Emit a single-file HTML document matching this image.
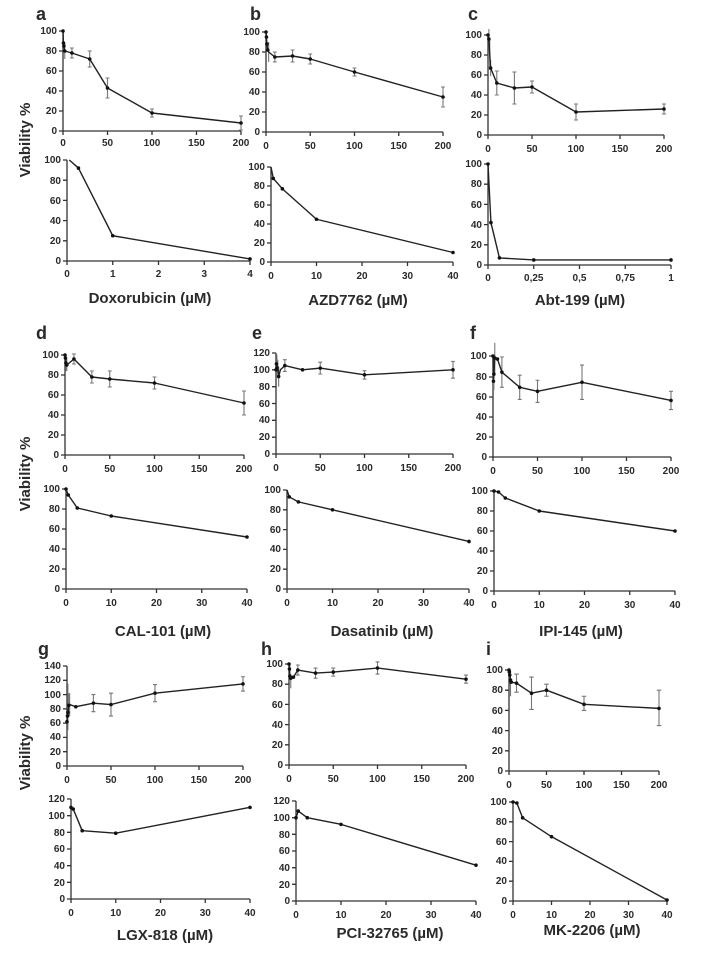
<!DOCTYPE html>
<html><head><meta charset="utf-8"><style>
html,body{margin:0;padding:0;background:#fff}
svg{display:block}
text{font-family:"Liberation Sans",Arial,sans-serif;fill:#2a2a2a}
.t{font-size:10px;font-weight:bold}
.ty{text-anchor:end}
.tx{text-anchor:middle}
.ax{fill:none;stroke:#333;stroke-width:1.3}
.ln{fill:none;stroke:#222;stroke-width:1.4;vector-effect:non-scaling-stroke;stroke-linejoin:round}
.er{fill:none;stroke:#777;stroke-width:1.1;vector-effect:non-scaling-stroke}
.dt{fill:none;stroke:#111;stroke-width:3.6;stroke-linecap:round;vector-effect:non-scaling-stroke}
.ti{font-size:15px;font-weight:bold;text-anchor:middle}
.lb{font-size:18px;font-weight:bold}
.vl{font-size:15px;font-weight:bold;text-anchor:middle}
</style></head><body>
<svg width="717" height="954" viewBox="0 0 717 954" xmlns="http://www.w3.org/2000/svg">
<!-- letters -->
<text class="lb" x="36" y="20">a</text><text class="lb" x="250" y="20">b</text><text class="lb" x="468" y="20">c</text>
<text class="lb" x="36" y="339">d</text><text class="lb" x="252" y="339">e</text><text class="lb" x="470" y="339">f</text>
<text class="lb" x="38" y="655">g</text><text class="lb" x="261" y="655">h</text><text class="lb" x="486" y="655">i</text>
<!-- Viability -->
<text class="vl" transform="translate(30,140) rotate(-90)">Viability %</text>
<text class="vl" transform="translate(30,474) rotate(-90)">Viability %</text>
<text class="vl" transform="translate(30,753) rotate(-90)">Viability %</text>
<!-- titles -->
<text class="ti" x="150" y="303">Doxorubicin (µM)</text>
<text class="ti" x="358" y="305">AZD7762 (µM)</text>
<text class="ti" x="580" y="305">Abt-199 (µM)</text>
<text class="ti" x="163" y="636">CAL-101 (µM)</text>
<text class="ti" x="382" y="636">Dasatinib (µM)</text>
<text class="ti" x="581" y="636">IPI-145 (µM)</text>
<text class="ti" x="165" y="940">LGX-818 (µM)</text>
<text class="ti" x="390" y="938">PCI-32765 (µM)</text>
<text class="ti" x="592" y="935">MK-2206 (µM)</text>

<!-- ===== a top ===== -->
<path class="ax" d="M63,31V131H241M59,131h4M59,111h4M59,91h4M59,71h4M59,51h4M59,31h4M63,131v4M107.5,131v4M152,131v4M196.5,131v4M241,131v4"/>
<g class="t ty"><text x="57" y="134">0</text><text x="57" y="114">20</text><text x="57" y="94">40</text><text x="57" y="74">60</text><text x="57" y="54">80</text><text x="57" y="34">100</text></g>
<g class="t tx"><text x="63" y="146">0</text><text x="107.5" y="146">50</text><text x="152" y="146">100</text><text x="196.5" y="146">150</text><text x="241" y="146">200</text></g>
<g transform="translate(63,131) scale(0.89,-1)">
<path class="er" d="M2,72V88M10,73V83M7.8,83h4.4M7.8,73h4.4M30,64V80M27.8,80h4.4M27.8,64h4.4M50,33V53M47.8,53h4.4M47.8,33h4.4M100,14V22M97.8,22h4.4M97.8,14h4.4M200,1V15M197.8,15h4.4M197.8,1h4.4"/>
<path class="ln" d="M0,100L0.5,88L1,85L2,80L10,78L30,72L50,43L100,18L200,8"/>
<path class="dt" d="M0,100h0M0.5,88h0M1,85h0M2,80h0M10,78h0M30,72h0M50,43h0M100,18h0M200,8h0"/>
</g>
<!-- a bottom -->
<path class="ax" d="M67,160V261H250M63,261h4M63,240.8h4M63,220.6h4M63,200.4h4M63,180.2h4M63,160h4M67,261v4M112.75,261v4M158.5,261v4M204.25,261v4M250,261v4"/>
<g class="t ty"><text x="61" y="264">0</text><text x="61" y="244">20</text><text x="61" y="224">40</text><text x="61" y="204">60</text><text x="61" y="184">80</text><text x="61" y="163">100</text></g>
<g class="t tx"><text x="67" y="277">0</text><text x="112.75" y="277">1</text><text x="158.5" y="277">2</text><text x="204.25" y="277">3</text><text x="250" y="277">4</text></g>
<g transform="translate(67,261) scale(45.75,-1.01)">
<path class="ln" d="M0.05,100L0.25,92L1,25L4,2"/>
<path class="dt" d="M0.25,92h0M1,25h0M4,2h0"/>
</g>

<!-- ===== b top ===== -->
<path class="ax" d="M266,32V132H443M262,132h4M262,112h4M262,92h4M262,72h4M262,52h4M262,32h4M266,132v4M310.25,132v4M354.5,132v4M398.75,132v4M443,132v4"/>
<g class="t ty"><text x="260" y="135">0</text><text x="260" y="115">20</text><text x="260" y="95">40</text><text x="260" y="75">60</text><text x="260" y="55">80</text><text x="260" y="35">100</text></g>
<g class="t tx"><text x="266" y="149">0</text><text x="310.25" y="149">50</text><text x="354.5" y="149">100</text><text x="398.75" y="149">150</text><text x="443" y="149">200</text></g>
<g transform="translate(266,132) scale(0.885,-1)">
<path class="er" d="M3,70V90M10,70V80M7.8,80h4.4M7.8,70h4.4M30,70V82M27.8,82h4.4M27.8,70h4.4M50,68V78M47.8,78h4.4M47.8,68h4.4M100,56V64M97.8,64h4.4M97.8,56h4.4M200,25V45M197.8,45h4.4M197.8,25h4.4"/>
<path class="ln" d="M0,100L0.5,95L1,88L2,82L3,80L10,75L30,76L50,73L100,60L200,35"/>
<path class="dt" d="M0,100h0M0.5,95h0M1,88h0M2,82h0M10,75h0M30,76h0M50,73h0M100,60h0M200,35h0"/>
</g>
<!-- b bottom -->
<path class="ax" d="M271,167V262H453M267,262h4M267,243h4M267,224h4M267,205h4M267,186h4M267,167h4M271,262v4M316.5,262v4M362,262v4M407.5,262v4M453,262v4"/>
<g class="t ty"><text x="265" y="265">0</text><text x="265" y="246">20</text><text x="265" y="227">40</text><text x="265" y="208">60</text><text x="265" y="189">80</text><text x="265" y="170">100</text></g>
<g class="t tx"><text x="271" y="279">0</text><text x="316.5" y="279">10</text><text x="362" y="279">20</text><text x="407.5" y="279">30</text><text x="453" y="279">40</text></g>
<g transform="translate(271,262) scale(4.55,-0.95)">
<path class="ln" d="M0,100L0.5,88L2.5,77L10,45L40,10"/>
<path class="dt" d="M0.5,88h0M2.5,77h0M10,45h0M40,10h0"/>
</g>

<!-- ===== c top ===== -->
<path class="ax" d="M488,35V135H664M484,135h4M484,115h4M484,95h4M484,75h4M484,55h4M484,35h4M488,135v4M532,135v4M576,135v4M620,135v4M664,135v4"/>
<g class="t ty"><text x="482" y="138">0</text><text x="482" y="118">20</text><text x="482" y="98">40</text><text x="482" y="78">60</text><text x="482" y="58">80</text><text x="482" y="38">100</text></g>
<g class="t tx"><text x="488" y="152">0</text><text x="532" y="152">50</text><text x="576" y="152">100</text><text x="620" y="152">150</text><text x="664" y="152">200</text></g>
<g transform="translate(488,135) scale(0.88,-1)">
<path class="er" d="M1,86V106M2,65V95M3,59V75M10,40V64M7.7,64h4.6M7.7,40h4.6M30,31V63M27.7,63h4.6M27.7,31h4.6M50,42V54M47.7,54h4.6M47.7,42h4.6M100,15V31M97.7,31h4.6M97.7,15h4.6M200,21V31M197.7,31h4.6M197.7,21h4.6"/>
<path class="ln" d="M0,100L1,96L2,80L3,67L10,52L30,47L50,48L100,23L200,26"/>
<path class="dt" d="M0,100h0M1,96h0M3,67h0M10,52h0M30,47h0M50,48h0M100,23h0M200,26h0"/>
</g>
<!-- c bottom -->
<path class="ax" d="M488,164V265H671M484,265h4M484,244.8h4M484,224.6h4M484,204.4h4M484,184.2h4M484,164h4M488,265v4M533.75,265v4M579.5,265v4M625.25,265v4M671,265v4"/>
<g class="t ty"><text x="482" y="268">0</text><text x="482" y="248">20</text><text x="482" y="228">40</text><text x="482" y="208">60</text><text x="482" y="187">80</text><text x="482" y="167">100</text></g>
<g class="t tx"><text x="488" y="281">0</text><text x="533.75" y="281">0,25</text><text x="579.5" y="281">0,5</text><text x="625.25" y="281">0,75</text><text x="671" y="281">1</text></g>
<g transform="translate(488,265) scale(183,-1.01)">
<path class="ln" d="M0,100L0.016,42L0.0625,7L0.25,5L1,5"/>
<path class="dt" d="M0,100h0M0.016,42h0M0.0625,7h0M0.25,5h0M1,5h0"/>
</g>

<!-- ===== d top ===== -->
<path class="ax" d="M65,355V455H244M61,455h4M61,435h4M61,415h4M61,395h4M61,375h4M61,355h4M65,455v4M109.75,455v4M154.5,455v4M199.25,455v4M244,455v4"/>
<g class="t ty"><text x="59" y="458">0</text><text x="59" y="438">20</text><text x="59" y="418">40</text><text x="59" y="398">60</text><text x="59" y="378">80</text><text x="59" y="358">100</text></g>
<g class="t tx"><text x="65" y="472">0</text><text x="109.75" y="472">50</text><text x="154.5" y="472">100</text><text x="199.25" y="472">150</text><text x="244" y="472">200</text></g>
<g transform="translate(65,455) scale(0.895,-1)">
<path class="er" d="M1,84V100M2,84V96M10,91V101M7.8,101h4.4M7.8,91h4.4M30,72V84M27.8,84h4.4M27.8,72h4.4M50,68V84M47.8,84h4.4M47.8,68h4.4M100,66V78M97.8,78h4.4M97.8,66h4.4M200,40V64M197.8,64h4.4M197.8,40h4.4"/>
<path class="ln" d="M0,100L0.5,97L1,92L2,90L10,96L30,78L50,76L100,72L200,52"/>
<path class="dt" d="M0,100h0M0.5,97h0M1,92h0M2,90h0M10,96h0M30,78h0M50,76h0M100,72h0M200,52h0"/>
</g>
<!-- d bottom -->
<path class="ax" d="M66,489V589H247M62,589h4M62,569h4M62,549h4M62,529h4M62,509h4M62,489h4M66,589v4M111.25,589v4M156.5,589v4M201.75,589v4M247,589v4"/>
<g class="t ty"><text x="60" y="592">0</text><text x="60" y="572">20</text><text x="60" y="552">40</text><text x="60" y="532">60</text><text x="60" y="512">80</text><text x="60" y="492">100</text></g>
<g class="t tx"><text x="66" y="606">0</text><text x="111.25" y="606">10</text><text x="156.5" y="606">20</text><text x="201.75" y="606">30</text><text x="247" y="606">40</text></g>
<g transform="translate(66,589) scale(4.525,-1)">
<path class="ln" d="M0,100L0.5,94L2.5,81L10,73L40,52"/>
<path class="dt" d="M0,100h0M0.5,94h0M2.5,81h0M10,73h0M40,52h0"/>
</g>

<!-- ===== e top ===== -->
<path class="ax" d="M276,353V454H453M272,454h4M272,437.2h4M272,420.3h4M272,403.5h4M272,386.7h4M272,369.8h4M272,353h4M276,454v4M320.25,454v4M364.5,454v4M408.75,454v4M453,454v4"/>
<g class="t ty"><text x="270" y="457">0</text><text x="270" y="440">20</text><text x="270" y="423">40</text><text x="270" y="407">60</text><text x="270" y="390">80</text><text x="270" y="373">100</text><text x="270" y="356">120</text></g>
<g class="t tx"><text x="276" y="471">0</text><text x="320.25" y="471">50</text><text x="364.5" y="471">100</text><text x="408.75" y="471">150</text><text x="453" y="471">200</text></g>
<g transform="translate(276,454) scale(0.885,-0.842)">
<path class="er" d="M1,92V118M2,96V112M3,80V104M10,98V112M7.8,112h4.4M7.8,98h4.4M50,95V109M47.8,109h4.4M47.8,95h4.4M100,89V99M97.8,99h4.4M97.8,89h4.4M200,90V110M197.8,110h4.4M197.8,90h4.4"/>
<path class="ln" d="M0,100L0.5,107L1,102L2,104L3,92L5,100L10,105L30,100L50,102L100,94L200,100"/>
<path class="dt" d="M0,100h0M0.5,107h0M1,102h0M3,92h0M10,105h0M30,100h0M50,102h0M100,94h0M200,100h0"/>
</g>
<!-- e bottom -->
<path class="ax" d="M287,490V589H469M283,589h4M283,569.2h4M283,549.4h4M283,529.6h4M283,509.8h4M283,490h4M287,589v4M332.5,589v4M378,589v4M423.5,589v4M469,589v4"/>
<g class="t ty"><text x="281" y="592">0</text><text x="281" y="572">20</text><text x="281" y="552">40</text><text x="281" y="533">60</text><text x="281" y="513">80</text><text x="281" y="493">100</text></g>
<g class="t tx"><text x="287" y="606">0</text><text x="332.5" y="606">10</text><text x="378" y="606">20</text><text x="423.5" y="606">30</text><text x="469" y="606">40</text></g>
<g transform="translate(287,589) scale(4.55,-0.99)">
<path class="ln" d="M0,100L0.5,93L2.5,88L10,80L40,48"/>
<path class="dt" d="M0.5,93h0M2.5,88h0M10,80h0M40,48h0"/>
</g>

<!-- ===== f top ===== -->
<path class="ax" d="M493,356V457H671M489,457h4M489,437h4M489,417h4M489,397h4M489,377h4M489,356h4M493,457v4M537.5,457v4M582,457v4M626.5,457v4M671,457v4"/>
<g class="t ty"><text x="487" y="460">0</text><text x="487" y="440">20</text><text x="487" y="420">40</text><text x="487" y="400">60</text><text x="487" y="380">80</text><text x="487" y="359">100</text></g>
<g class="t tx"><text x="493" y="474">0</text><text x="537.5" y="474">50</text><text x="582" y="474">100</text><text x="626.5" y="474">150</text><text x="671" y="474">200</text></g>
<g transform="translate(493,457) scale(0.89,-1.01)">
<path class="er" d="M0.5,60V90M1,66V98M2,83V113M10,69V99M7.8,99h4.4M7.8,69h4.4M30,57V81M27.8,81h4.4M27.8,57h4.4M50,54V76M47.8,76h4.4M47.8,54h4.4M100,57V91M97.8,91h4.4M97.8,57h4.4M200,47V65M197.8,65h4.4M197.8,47h4.4"/>
<path class="ln" d="M0,100L0.5,75L1,82L2,98L5,97L10,84L30,69L50,65L100,74L200,56"/>
<path class="dt" d="M0,100h0M0.5,75h0M1,82h0M2,98h0M5,97h0M10,84h0M30,69h0M50,65h0M100,74h0M200,56h0"/>
</g>
<!-- f bottom -->
<path class="ax" d="M494,491V591H675M490,591h4M490,571h4M490,551h4M490,531h4M490,511h4M490,491h4M494,591v4M539.25,591v4M584.5,591v4M629.75,591v4M675,591v4"/>
<g class="t ty"><text x="488" y="594">0</text><text x="488" y="574">20</text><text x="488" y="554">40</text><text x="488" y="534">60</text><text x="488" y="514">80</text><text x="488" y="494">100</text></g>
<g class="t tx"><text x="494" y="608">0</text><text x="539.25" y="608">10</text><text x="584.5" y="608">20</text><text x="629.75" y="608">30</text><text x="675" y="608">40</text></g>
<g transform="translate(494,591) scale(4.525,-1)">
<path class="ln" d="M0,100L1,99L2.5,93L10,80L40,60"/>
<path class="dt" d="M0,100h0M1,99h0M2.5,93h0M10,80h0M40,60h0"/>
</g>

<!-- ===== g top ===== -->
<path class="ax" d="M67,666V766H243M63,766h4M63,751.7h4M63,737.4h4M63,723.1h4M63,708.9h4M63,694.6h4M63,680.3h4M63,666h4M67,766v4M111,766v4M155,766v4M199,766v4M243,766v4"/>
<g class="t ty"><text x="61" y="769">0</text><text x="61" y="755">20</text><text x="61" y="740">40</text><text x="61" y="726">60</text><text x="61" y="712">80</text><text x="61" y="698">100</text><text x="61" y="683">120</text><text x="61" y="669">140</text></g>
<g class="t tx"><text x="67" y="783">0</text><text x="111" y="783">50</text><text x="155" y="783">100</text><text x="199" y="783">150</text><text x="243" y="783">200</text></g>
<g transform="translate(67,766) scale(0.88,-0.714)">
<path class="er" d="M1,50V115M2,68V102M3,70V102M30,76V100M27.7,100h4.6M27.7,76h4.6M50,70V102M47.7,102h4.6M47.7,70h4.6M100,90V114M97.7,114h4.6M97.7,90h4.6M200,105V125M197.7,125h4.6M197.7,105h4.6"/>
<path class="ln" d="M0,62L0.5,70L1,75L2,85L3,86L10,83L30,88L50,86L100,102L200,115"/>
<path class="dt" d="M0,62h0M0.5,70h0M1,75h0M2,85h0M10,83h0M30,88h0M50,86h0M100,102h0M200,115h0"/>
</g>
<!-- g bottom -->
<path class="ax" d="M71,799V899H250M67,899h4M67,882.3h4M67,865.7h4M67,849h4M67,832.3h4M67,815.7h4M67,799h4M71,899v4M115.75,899v4M160.5,899v4M205.25,899v4M250,899v4"/>
<g class="t ty"><text x="65" y="902">0</text><text x="65" y="886">20</text><text x="65" y="869">40</text><text x="65" y="852">60</text><text x="65" y="836">80</text><text x="65" y="819">100</text><text x="65" y="802">120</text></g>
<g class="t tx"><text x="71" y="916">0</text><text x="115.75" y="916">10</text><text x="160.5" y="916">20</text><text x="205.25" y="916">30</text><text x="250" y="916">40</text></g>
<g transform="translate(71,899) scale(4.475,-0.833)">
<path class="ln" d="M0,110L0.5,108L2.5,82L10,79L40,110"/>
<path class="dt" d="M0,110h0M0.5,108h0M2.5,82h0M10,79h0M40,110h0"/>
</g>

<!-- ===== h top ===== -->
<path class="ax" d="M289,664V765H466M285,765h4M285,744.8h4M285,724.6h4M285,704.4h4M285,684.2h4M285,664h4M289,765v4M333.25,765v4M377.5,765v4M421.75,765v4M466,765v4"/>
<g class="t ty"><text x="283" y="768">0</text><text x="283" y="748">20</text><text x="283" y="728">40</text><text x="283" y="708">60</text><text x="283" y="687">80</text><text x="283" y="667">100</text></g>
<g class="t tx"><text x="289" y="782">0</text><text x="333.25" y="782">50</text><text x="377.5" y="782">100</text><text x="421.75" y="782">150</text><text x="466" y="782">200</text></g>
<g transform="translate(289,765) scale(0.885,-1.01)">
<path class="er" d="M1,88V100M2,76V90M10,89V99M7.8,99h4.4M7.8,89h4.4M30,86V96M27.8,96h4.4M27.8,86h4.4M50,88V96M47.8,96h4.4M47.8,88h4.4M100,90V102M97.8,102h4.4M97.8,90h4.4M200,81V89M197.8,89h4.4M197.8,81h4.4"/>
<path class="ln" d="M0,100L0.5,95L1,88L2,86L5,87L10,94L30,91L50,92L100,96L200,85"/>
<path class="dt" d="M0,100h0M0.5,95h0M1,88h0M2,86h0M5,87h0M10,94h0M30,91h0M50,92h0M100,96h0M200,85h0"/>
</g>
<!-- h bottom -->
<path class="ax" d="M296,801V901H476M292,901h4M292,884.3h4M292,867.7h4M292,851h4M292,834.3h4M292,817.7h4M292,801h4M296,901v4M341,901v4M386,901v4M431,901v4M476,901v4"/>
<g class="t ty"><text x="290" y="904">0</text><text x="290" y="888">20</text><text x="290" y="871">40</text><text x="290" y="854">60</text><text x="290" y="838">80</text><text x="290" y="821">100</text><text x="290" y="804">120</text></g>
<g class="t tx"><text x="296" y="918">0</text><text x="341" y="918">10</text><text x="386" y="918">20</text><text x="431" y="918">30</text><text x="476" y="918">40</text></g>
<g transform="translate(296,901) scale(4.5,-0.833)">
<path class="ln" d="M0,100L0.5,108L2.5,100L10,92L40,43"/>
<path class="dt" d="M0,100h0M0.5,108h0M2.5,100h0M10,92h0M40,43h0"/>
</g>

<!-- ===== i top ===== -->
<path class="ax" d="M509,670V771H659M505,771h4M505,750.8h4M505,730.6h4M505,710.4h4M505,690.2h4M505,670h4M509,771v4M546.5,771v4M584,771v4M621.5,771v4M659,771v4"/>
<g class="t ty"><text x="503" y="774">0</text><text x="503" y="754">20</text><text x="503" y="734">40</text><text x="503" y="714">60</text><text x="503" y="693">80</text><text x="503" y="673">100</text></g>
<g class="t tx"><text x="509" y="788">0</text><text x="546.5" y="788">50</text><text x="584" y="788">100</text><text x="621.5" y="788">150</text><text x="659" y="788">200</text></g>
<g transform="translate(509,771) scale(0.75,-1.01)">
<path class="er" d="M1,85V100M2,74V100M10,78V96M7,96h6M7,78h6M30,61V93M27,93h6M27,61h6M50,74V86M47,86h6M47,74h6M100,60V74M97,74h6M97,60h6M200,45V80M197,80h6M197,45h6"/>
<path class="ln" d="M0,100L0.5,98L1,95L2,90L3,88L10,87L30,77L50,80L100,66L200,62"/>
<path class="dt" d="M0,100h0M0.5,98h0M1,95h0M2,90h0M3,88h0M10,87h0M30,77h0M50,80h0M100,66h0M200,62h0"/>
</g>
<!-- i bottom -->
<path class="ax" d="M513,802V901H667M509,901h4M509,881.2h4M509,861.4h4M509,841.6h4M509,821.8h4M509,802h4M513,901v4M551.5,901v4M590,901v4M628.5,901v4M667,901v4"/>
<g class="t ty"><text x="507" y="904">0</text><text x="507" y="884">20</text><text x="507" y="864">40</text><text x="507" y="845">60</text><text x="507" y="825">80</text><text x="507" y="805">100</text></g>
<g class="t tx"><text x="513" y="918">0</text><text x="551.5" y="918">10</text><text x="590" y="918">20</text><text x="628.5" y="918">30</text><text x="667" y="918">40</text></g>
<g transform="translate(513,901) scale(3.85,-0.99)">
<path class="ln" d="M0,100L1,99L2.5,84L10,65L40,1"/>
<path class="dt" d="M0,100h0M1,99h0M2.5,84h0M10,65h0M40,1h0"/>
</g>
</svg>
</body></html>
